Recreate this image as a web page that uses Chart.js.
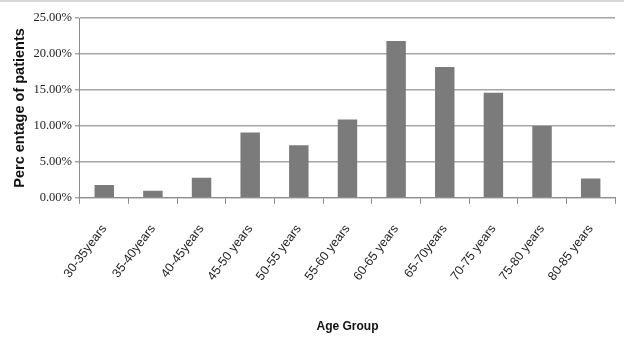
<!DOCTYPE html>
<html>
<head>
<meta charset="utf-8">
<script src="https://cdn.jsdelivr.net/npm/chart.js@4/dist/chart.umd.min.js"></script>
<style>
  html, body { margin: 0; padding: 0; background: #ffffff; }
  #wrap { position: relative; width: 624px; height: 348px; border-top: 2px solid #d8d8d8; box-sizing: border-box; }
</style>
</head>
<body>
<div id="wrap"><canvas id="c" width="624" height="346"></canvas></div>
<script>
// Share of patients in each age group (percent)
const ageGroups = ["30-35years", "35-40years", "40-45years", "45-50 years", "50-55 years",
  "55-60 years", "60-65 years", "65-70years", "70-75 years", "75-80 years", "80-85 years"];
const patientShare = [1.8, 1.0, 2.8, 9.1, 7.3, 10.9, 21.8, 18.2, 14.6, 10.0, 2.7];
const yTicks = [0, 5, 10, 15, 20, 25];

const sans = "'Liberation Sans', Arial, sans-serif";

new Chart(document.getElementById("c"), {
  type: "bar",
  data: {
    labels: ageGroups,
    datasets: [{
      data: patientShare,
      backgroundColor: "#7b7b7b",
      borderWidth: 0,
      categoryPercentage: 1.0,
      barPercentage: 0.4
    }]
  },
  options: {
    responsive: false,
    animation: false,
    layout: { padding: { top: 16, right: 9, bottom: 14, left: 11 } },
    plugins: { legend: { display: false }, tooltip: { enabled: false } },
    scales: {
      x: {
        grid: { display: true, drawOnChartArea: false, drawTicks: true, tickLength: 6, color: "#8c8c8c" },
        border: { color: "#8c8c8c", width: 1 },
        ticks: {
          minRotation: 53, maxRotation: 53, color: "#222",
          font: { family: sans, size: 12.5 },
          padding: 18
        },
        title: {
          display: true, text: "Age Group", color: "#111",
          font: { family: sans, size: 12, weight: "bold" },
          padding: { top: 18, bottom: 0 }
        }
      },
      y: {
        min: 0, max: 25,
        afterBuildTicks: (axis) => { axis.ticks = yTicks.map(v => ({ value: v })); },
        grid: { color: "#a6a6a6", lineWidth: 1.5, tickLength: 5 },
        border: { color: "#8c8c8c", width: 1 },
        ticks: {
          color: "#222",
          font: { family: "'Liberation Serif', serif", size: 12.5 },
          callback: (v) => v.toFixed(2) + "%",
          padding: 3
        },
        title: {
          display: true, text: "Perc entage of patients", color: "#111",
          font: { family: sans, size: 14.5, weight: "bold" },
          padding: { top: 0, bottom: 2 }
        }
      }
    }
  }
});
</script>
</body>
</html>
